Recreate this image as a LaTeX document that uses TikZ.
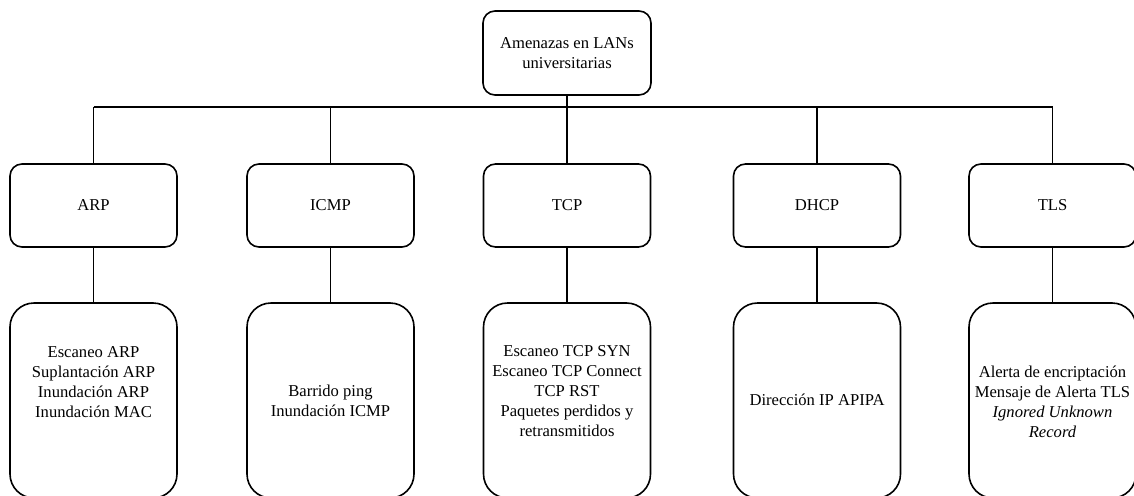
\documentclass[tikz,border=0pt]{standalone}
\usepackage{fontspec}
\setmainfont{Liberation Serif}
\begin{document}
\begin{tikzpicture}[x=1pt,y=-1pt,
  every node/.style={font=\fontsize{16.6}{20}\selectfont, align=center, inner sep=0pt},
  rootbox/.style={draw, line width=1.6pt, rounded corners=12pt, minimum width=168pt, minimum height=84pt},
  protobox/.style={draw, line width=1.6pt, rounded corners=12pt, minimum width=167pt, minimum height=83pt},
  threatbox/.style={draw, line width=1.6pt, rounded corners=24pt, minimum width=167pt, minimum height=195pt},
  link/.style={line width=1.6pt}]
\useasboundingbox (0,0) rectangle (1134,495);

% root
\node[rootbox] (root) at (567,53) {Amenazas en LANs\\universitarias};

% protocol level
\node[protobox] (arp)  at (93.5,205.5)  {ARP};
\node[protobox] (icmp) at (330.5,205.5) {ICMP};
\node[protobox] (tcp)  at (567,205.5)   {TCP};
\node[protobox] (dhcp) at (817,205.5)   {DHCP};
\node[protobox] (tls)  at (1052.5,205.5){TLS};

% threat boxes
\node[threatbox] (arpd)  at (93.5,400.5)  {};
\node[threatbox] (icmpd) at (330.5,400.5) {};
\node[threatbox] (tcpd)  at (567,400.5)   {};
\node[threatbox] (dhcpd) at (817,400.5)   {};
\node[threatbox] (tlsd)  at (1052.5,400.5){};

\node (arpt)  at (93.5,382)   {Escaneo ARP\\Suplantación ARP\\Inundación ARP\\Inundación MAC};
\node (icmpt) at (330.5,401)  {Barrido ping\\Inundación ICMP};
\node (tcpt)  at (567,391)    {Escaneo TCP SYN\\Escaneo TCP Connect\\TCP RST\\Paquetes perdidos y\\retransmitidos};
\node (dhcpt) at (817,400)    {Dirección IP APIPA};
\node (tlst)  at (1052.5,402) {Alerta de encriptación\\Mensaje de Alerta TLS\\\textit{Ignored Unknown}\\\textit{Record}};

% bus
\coordinate (busL) at (93.5,107);
\coordinate (busR) at (1052.5,107);
\draw[link] (busL) -- (busR);
\draw[link] (root.south) -- (root.south |- busL);

\foreach \p in {arp,icmp,tcp,dhcp,tls}{
  \draw[link] (\p.north |- busL) -- (\p.north);
  \draw[link] (\p.south) -- (\p d.north);
}
\end{tikzpicture}
\end{document}
